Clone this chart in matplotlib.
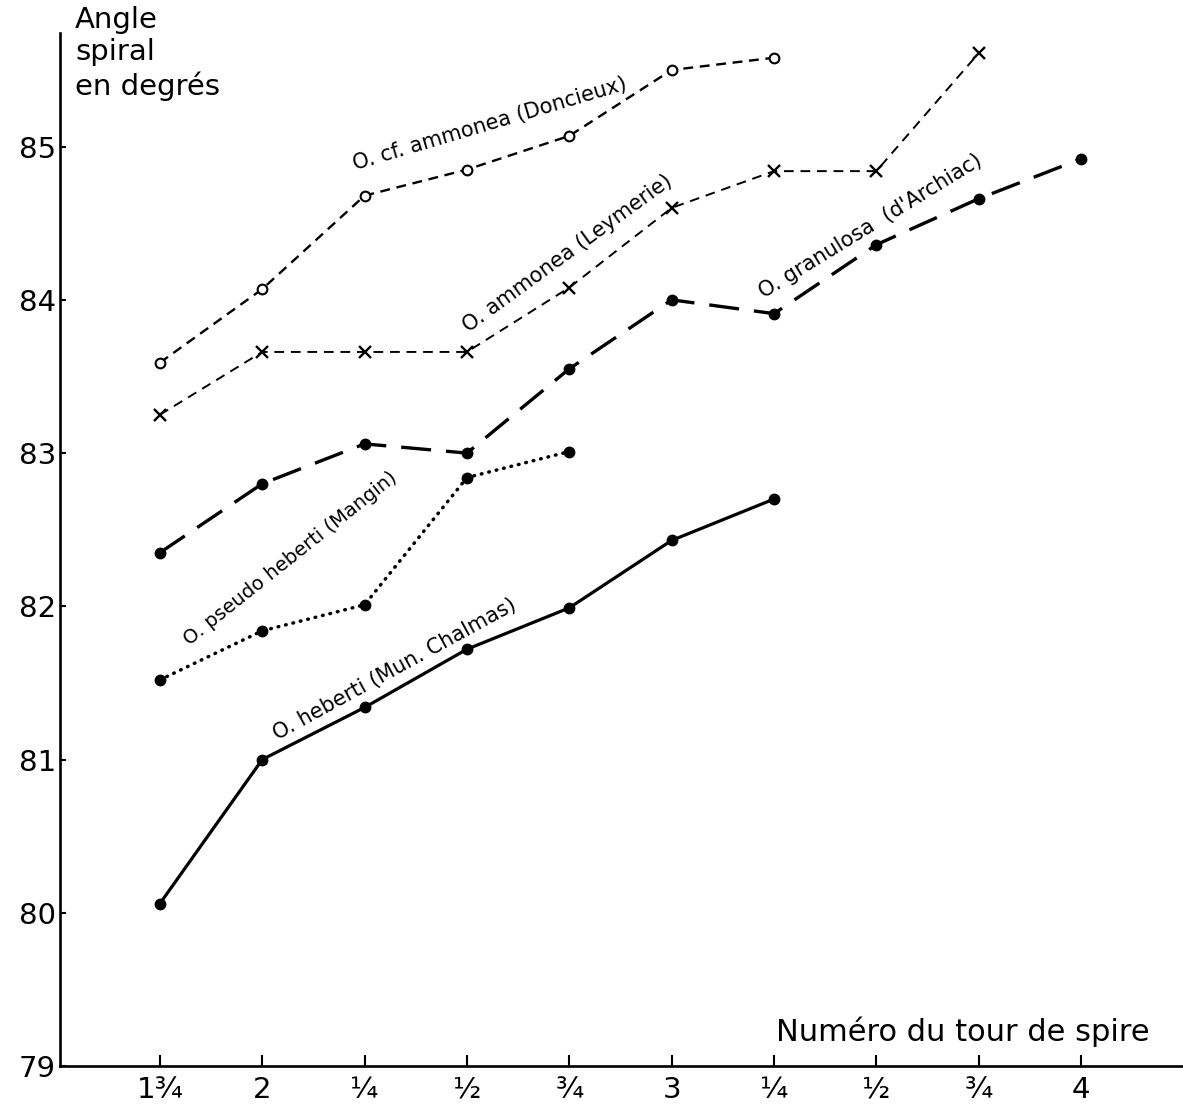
import matplotlib.pyplot as plt
import numpy as np

# tour de spire positions (1 3/4 .. 4)
tours = [1.75, 2.0, 2.25, 2.5, 2.75, 3.0, 3.25, 3.5, 3.75, 4.0]
tick_labels = ["1¾", "2", "¼", "½", "¾", "3", "¼", "½", "¾", "4"]

cf_ammonea = [83.59, 84.07, 84.68, 84.85, 85.07, 85.50, 85.58]
ammonea = [83.25, 83.66, 83.66, 83.66, 84.08, 84.60, 84.84, 84.84, 85.61]
granulosa = [82.35, 82.80, 83.06, 83.00, 83.55, 84.00, 83.91, 84.36, 84.66, 84.92]
pseudo_heberti = [81.52, 81.84, 82.01, 82.84, 83.01]
heberti = [80.06, 81.00, 81.34, 81.72, 81.99, 82.43, 82.70]

fig = plt.figure(figsize=(11.83, 11.07), dpi=100)
ax = fig.add_axes([0.0507, 0.037, 0.9493, 0.933])

ax.plot(tours[:len(cf_ammonea)], cf_ammonea, color='black', lw=1.7,
        linestyle=(0, (4.2, 2.8)), marker='o', mfc='white', mec='black', ms=7, mew=1.5)
ax.plot(tours[:len(ammonea)], ammonea, color='black', lw=1.4,
        linestyle=(0, (5, 3.5)), marker='x', ms=8, mew=1.7)
ax.plot(tours[:len(granulosa)], granulosa, color='black', lw=2.4,
        linestyle=(0, (9, 4.5)), marker='o', ms=7.5)
ax.plot(tours[:len(pseudo_heberti)], pseudo_heberti, color='black', lw=2.5,
        linestyle=(0, (0.2, 2.0)), dash_capstyle='round', marker='o', ms=7.5)
ax.plot(tours[:len(heberti)], heberti, color='black', lw=2.3,
        linestyle='-', marker='o', ms=7.5)

lab_kw = dict(fontsize=15, ha='center', va='center', rotation_mode='anchor')
ax.text(2.556, 85.15, "O. cf. ammonea (Doncieux)", rotation=16.5, **lab_kw)
ax.text(2.747, 84.30, "O. ammonea (Leymerie)", rotation=36, **lab_kw)
ax.text(3.485, 84.48, "O. granulosa  (d'Archiac)", rotation=31.5, **lab_kw)
ax.text(2.068, 82.31, "O. pseudo heberti (Mangin)", rotation=38.5, fontsize=14,
        ha='center', va='center', rotation_mode='anchor')
ax.text(2.324, 81.59, "O. heberti (Mun. Chalmas)", rotation=28.7, **lab_kw)

ax.set_xlim(1.506, 4.249)
ax.set_ylim(79, 85.74)

ax.set_xticks(tours)
ax.set_xticklabels(tick_labels, fontsize=21)
ax.set_yticks([79, 80, 81, 82, 83, 84, 85])
ax.set_yticklabels(["79", "80", "81", "82", "83", "84", "85"], fontsize=21)
ax.tick_params(axis='x', direction='in', length=8, width=1.5, pad=7)
ax.tick_params(axis='y', direction='in', length=4, width=1.5, pad=3)

for s in ['top', 'right']:
    ax.spines[s].set_visible(False)
ax.spines['left'].set_linewidth(1.9)
ax.spines['bottom'].set_linewidth(1.9)

fig.text(75 / 1183, 1 - 6 / 1107, "Angle\nspiral\nen degrés", fontsize=21,
         ha='left', va='top', linespacing=1.2)
fig.text(1150 / 1183, 1 - 1047 / 1107, "Numéro du tour de spire", fontsize=22,
         ha='right', va='bottom')

fig.savefig("out.png", dpi=100)
